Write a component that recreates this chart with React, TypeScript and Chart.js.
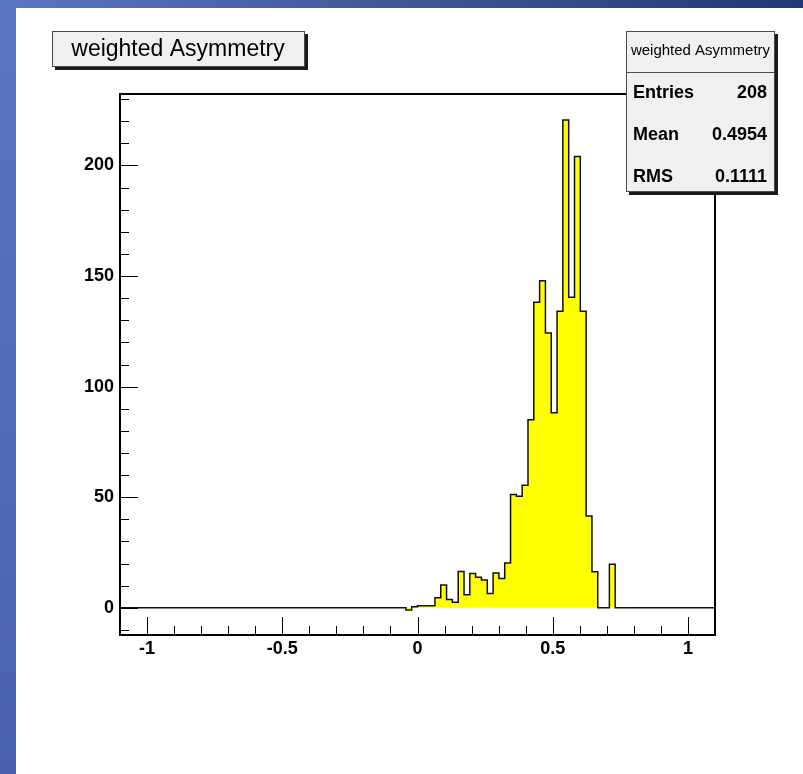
import { useEffect, useRef } from "react";
import { Chart, registerables } from "chart.js";

Chart.register(...registerables);

// Histogram "weighted Asymmetry"
const HIST_TITLE = "weighted Asymmetry";
const STATS_LABELS = ["Entries", "Mean", "RMS"];
const STATS_VALUES = ["208", "0.4954", "0.1111"];

const X_RANGE = [-1.1, 1.1];
const Y_RANGE = [-12.3, 232.3];
const X_MAJOR_TICKS = [-1, -0.5, 0, 0.5, 1];
const X_TICK_LABELS = ["-1", "-0.5", "0", "0.5", "1"];
const Y_MAJOR_TICKS = [0, 50, 100, 150, 200];
const Y_TICK_LABELS = ["0", "50", "100", "150", "200"];
const X_MINOR_STEP = 0.1;
const Y_MINOR_STEP = 10;

// Bin layout and contents (first bin starts at FIRST_BIN_EDGE)
const BIN_WIDTH = 0.0215;
const FIRST_BIN_EDGE = -0.043;
const BIN_CONTENTS = [
  -1, 0.5, 0.9, 0.9, 0.9, 4.5, 10.3, 3.8, 2.5, 16.4,
  5.9, 15.5, 13.8, 12.6, 6.5, 15.7, 13.2, 20.3, 51.2, 50.4,
  55.4, 85.0, 138.1, 147.9, 124.2, 88.2, 134.1, 220.6, 140.4, 204,
  134.1, 41.5, 16.3, 0, 0, 19.7,
];

const W = 803;
const H = 774;

function histPoints() {
  const pts: { x: number; y: number }[] = [{ x: X_RANGE[0], y: 0 }];
  BIN_CONTENTS.forEach((c, i) => pts.push({ x: FIRST_BIN_EDGE + i * BIN_WIDTH, y: c }));
  pts.push({ x: FIRST_BIN_EDGE + BIN_CONTENTS.length * BIN_WIDTH, y: 0 });
  pts.push({ x: X_RANGE[1], y: 0 });
  return pts;
}

function minorValues(lo: number, hi: number, step: number, majors: number[]) {
  const out: number[] = [];
  const start = Math.ceil(lo / step - 1e-9);
  const end = Math.floor(hi / step + 1e-9);
  for (let k = start; k <= end; k++) {
    const v = +(k * step).toFixed(6);
    if (!majors.some((m) => Math.abs(m - v) < 1e-9)) out.push(v);
  }
  return out;
}

const FONT = '"Liberation Sans", Arial, Helvetica, sans-serif';

const backgroundPlugin = {
  id: "slideBackground",
  beforeDraw(chart: any) {
    const ctx = chart.ctx as CanvasRenderingContext2D;
    ctx.save();
    ctx.fillStyle = "#ffffff";
    ctx.fillRect(0, 0, W, H);
    const gl = ctx.createLinearGradient(0, 0, 0, H);
    gl.addColorStop(0, "#5a76c3");
    gl.addColorStop(1, "#4862ad");
    ctx.fillStyle = gl;
    ctx.fillRect(0, 0, 16, H);
    const gt = ctx.createLinearGradient(0, 0, W, 0);
    gt.addColorStop(0, "#5a76c3");
    gt.addColorStop(0.5, "#3f5799");
    gt.addColorStop(1, "#22377a");
    ctx.fillStyle = gt;
    ctx.fillRect(0, 0, W, 8);
    ctx.restore();
  },
};

const framePlugin = {
  id: "rootFrame",
  afterDatasetsDraw(chart: any) {
    const ctx = chart.ctx as CanvasRenderingContext2D;
    const { left, right, top, bottom } = chart.chartArea;
    const xs = chart.scales.x;
    const ys = chart.scales.y;
    ctx.save();
    ctx.strokeStyle = "#000";
    ctx.lineWidth = 1;
    ctx.beginPath();
    X_MAJOR_TICKS.forEach((v) => {
      const px = Math.round(xs.getPixelForValue(v)) + 0.5;
      ctx.moveTo(px, bottom);
      ctx.lineTo(px, bottom - 18);
    });
    minorValues(X_RANGE[0], X_RANGE[1], X_MINOR_STEP, X_MAJOR_TICKS).forEach((v) => {
      const px = Math.round(xs.getPixelForValue(v)) + 0.5;
      ctx.moveTo(px, bottom);
      ctx.lineTo(px, bottom - 9);
    });
    Y_MAJOR_TICKS.forEach((v) => {
      const py = Math.round(ys.getPixelForValue(v)) + 0.5;
      ctx.moveTo(left, py);
      ctx.lineTo(left + 18, py);
    });
    minorValues(Y_RANGE[0], Y_RANGE[1], Y_MINOR_STEP, Y_MAJOR_TICKS).forEach((v) => {
      const py = Math.round(ys.getPixelForValue(v)) + 0.5;
      ctx.moveTo(left, py);
      ctx.lineTo(left + 9, py);
    });
    ctx.stroke();
    ctx.lineWidth = 2;
    ctx.strokeRect(left, top, right - left, bottom - top);
    ctx.restore();
  },
};

function drawPave(ctx: CanvasRenderingContext2D, x: number, y: number, w: number, h: number) {
  ctx.fillStyle = "#1a1a1a";
  ctx.fillRect(x + 3, y + 3, w, h);
  ctx.fillStyle = "#f0f0f0";
  ctx.fillRect(x, y, w, h);
  ctx.strokeStyle = "#4a4a4a";
  ctx.lineWidth = 1;
  ctx.strokeRect(x + 0.5, y + 0.5, w - 1, h - 1);
}

const pavePlugin = {
  id: "rootPaves",
  afterDraw(chart: any) {
    const ctx = chart.ctx as CanvasRenderingContext2D;
    ctx.save();
    // title pave
    drawPave(ctx, 52, 31, 253, 36);
    ctx.fillStyle = "#000";
    ctx.font = `23px ${FONT}`;
    ctx.textAlign = "center";
    ctx.textBaseline = "middle";
    ctx.fillText(HIST_TITLE, 178, 50);

    // statistics pave
    const sx = 626, sy = 31, sw = 149, sh = 161;
    drawPave(ctx, sx, sy, sw, sh);
    ctx.strokeStyle = "#4a4a4a";
    ctx.beginPath();
    ctx.moveTo(sx, 72.5);
    ctx.lineTo(sx + sw, 72.5);
    ctx.stroke();
    ctx.font = `15px ${FONT}`;
    ctx.fillStyle = "#000";
    ctx.fillText(HIST_TITLE, sx + sw / 2, 51);
    ctx.font = `bold 18px ${FONT}`;
    STATS_LABELS.forEach((lab, i) => {
      const yy = 93 + i * 42;
      ctx.textAlign = "left";
      ctx.fillText(lab, 633, yy);
      ctx.textAlign = "right";
      ctx.fillText(STATS_VALUES[i], 767, yy);
    });
    ctx.restore();
  },
};

export default function App() {
  const ref = useRef<HTMLCanvasElement | null>(null);

  useEffect(() => {
    if (!ref.current) return;
    const chart = new Chart(ref.current, {
      type: "line",
      data: {
        datasets: [
          {
            data: histPoints(),
            stepped: "before",
            borderColor: "#111111",
            borderWidth: 1.5,
            backgroundColor: "#ffff00",
            fill: "origin",
            pointRadius: 0,
            tension: 0,
          },
        ],
      },
      options: {
        animation: false,
        responsive: false,
        devicePixelRatio: 1,
        events: [],
        layout: { padding: { top: 94, right: 88, left: 0, bottom: 0 } },
        plugins: { legend: { display: false }, title: { display: false }, tooltip: { enabled: false } },
        scales: {
          x: {
            type: "linear",
            min: X_RANGE[0],
            max: X_RANGE[1],
            border: { display: false },
            grid: { display: false, drawTicks: false },
            afterBuildTicks: (s: any) => {
              s.ticks = X_MAJOR_TICKS.map((v) => ({ value: v }));
            },
            afterFit: (s: any) => {
              s.height = H - 635;
            },
            ticks: {
              autoSkip: false,
              maxRotation: 0,
              padding: 3,
              color: "#000",
              font: { family: FONT, size: 18, weight: "bold" },
              callback: (_v: any, i: number) => X_TICK_LABELS[i],
            },
          },
          y: {
            type: "linear",
            min: Y_RANGE[0],
            max: Y_RANGE[1],
            border: { display: false },
            grid: { display: false, drawTicks: false },
            afterBuildTicks: (s: any) => {
              s.ticks = Y_MAJOR_TICKS.map((v) => ({ value: v }));
            },
            afterFit: (s: any) => {
              s.width = 120;
            },
            ticks: {
              autoSkip: false,
              padding: 6,
              color: "#000",
              font: { family: FONT, size: 18, weight: "bold" },
              callback: (_v: any, i: number) => Y_TICK_LABELS[i],
            },
          },
        },
      },
      plugins: [backgroundPlugin, framePlugin, pavePlugin],
    } as any);
    return () => chart.destroy();
  }, []);

  return (
    <div style={{ position: "absolute", left: 0, top: 0, width: W, height: H }}>
      <canvas ref={ref} width={W} height={H} style={{ width: W, height: H, display: "block" }} />
    </div>
  );
}
